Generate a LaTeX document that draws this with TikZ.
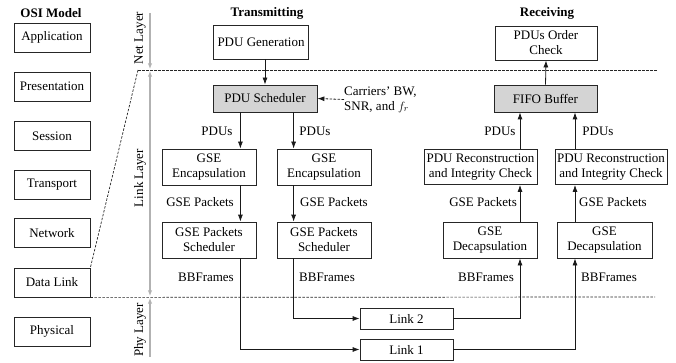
\documentclass[tikz,border=0pt]{standalone}
\usepackage{fontspec}
\setmainfont{Liberation Serif}
\usetikzlibrary{arrows.meta}
\begin{document}
\begin{tikzpicture}[x=1pt,y=-1pt,
  every node/.style={font=\fontsize{13}{15}\selectfont, inner sep=0pt},
  box/.style={draw=black!85, line width=0.8pt, align=center, minimum height=28, fill=white},
  gbox/.style={box, fill=black!17},
  lbl/.style={font=\fontsize{13}{15}\selectfont},
  ttl/.style={font=\fontsize{13}{15}\selectfont\bfseries},
  arr/.style={draw=black!90, line width=0.8pt, -{Latex[length=7pt,width=5pt]}},
  garr/.style={draw=black!30, line width=1.2pt},
  gtip/.style={-{Latex[length=5pt,width=4pt]}},
  dsh/.style={draw=black!85, line width=0.7pt, dash pattern=on 2.5pt off 1.5pt}
]
\useasboundingbox (0,0) rectangle (676,363);

% OSI model
\node[ttl] (osit) at (51,13) {OSI Model};
\node[box, minimum width=76, minimum height=29] (app) at (52,37.5) {Application};
\node[box, minimum width=76, minimum height=29] (pres) at (52,86.5) {Presentation};
\node[box, minimum width=76, minimum height=29] (sess) at (52,136) {Session};
\node[box, minimum width=76, minimum height=29] (trans) at (52,184.5) {Transport};
\node[box, minimum width=76, minimum height=29] (net) at (52,233) {Network};
\node[box, minimum width=76, minimum height=29] (dl) at (52,282.5) {Data Link};
\node[box, minimum width=76, minimum height=29] (phy) at (52,331.5) {Physical};

% layer separators
\coordinate (dtl) at (138,70);
\coordinate (dtr) at (657,70);
\coordinate (dbr) at (655,297);
\draw[dsh] (dtl) -- (dtr);
\draw[dsh] (dtl) -- (dl.north east);
\draw[dsh] (dl.south east) -- (dbr);

% layer axis
\coordinate (g0) at (150,13);
\coordinate (g1) at (150,69.3);
\coordinate (g2) at (150,70.7);
\coordinate (g3) at (150,296.3);
\coordinate (g4) at (150,297.7);
\coordinate (g5) at (150,357);
\draw[garr, -{Latex[length=6pt,width=4.5pt]}] (g0) -- (g1);
\draw[garr, {Latex[length=6pt,width=4.5pt]}-{Latex[length=6pt,width=4.5pt]}] (g2) -- (g3);
\draw[garr, -{Latex[length=6pt,width=4.5pt]}] (g5) -- (g4);
\node[lbl, rotate=90] (netl) at (140,38) {Net Layer};
\node[lbl, rotate=90] (linkl) at (140,178) {Link Layer};
\node[lbl, rotate=90] (phyl) at (140,330) {Phy Layer};

% Transmitting
\node[ttl] (tt) at (267,13) {Transmitting};
\node[box, minimum width=95, minimum height=34] (gen) at (261,42) {PDU Generation};
\node[gbox, minimum width=104, minimum height=27] (sch) at (265,98.5) {PDU Scheduler};
\node[lbl, align=left, anchor=west] (car) at (344,99.5) {Carriers' BW,\\SNR, and $f_r$};
\node[box, minimum width=94, minimum height=36] (encL) at (209,167) {GSE\\Encapsulation};
\node[box, minimum width=94, minimum height=36] (encR) at (324,167) {GSE\\Encapsulation};
\node[box, minimum width=94, minimum height=36] (schL) at (209,240) {GSE Packets\\Scheduler};
\node[box, minimum width=94, minimum height=36] (schR) at (324,240) {GSE Packets\\Scheduler};
\node[box, minimum width=93, minimum height=21] (link2) at (406.5,318.5) {Link 2};
\node[box, minimum width=93, minimum height=21] (link1) at (406.5,349.5) {Link 1};

\draw[arr] (gen.south -| sch.north) -- (sch.north);
\draw[arr, dash pattern=on 2.5pt off 1.5pt] (car.west) -- (sch.east);
\draw[arr] (sch.south -| encL.north east) ++(-16,0) coordinate (pa) -- (pa |- encL.north);
\draw[arr] (sch.south -| encR.north west) ++(17,0) coordinate (pb) -- (pb |- encR.north);
\node[lbl] (pdu1) at (217,131) {PDUs};
\node[lbl] (pdu2) at (315,131) {PDUs};
\draw[arr] (pa |- encL.south) -- (pa |- schL.north);
\draw[arr] (pb |- encR.south) -- (pb |- schR.north);
\node[lbl, anchor=east] (gp1) at (234,202.5) {GSE Packets};
\node[lbl, anchor=west] (gp2) at (300,202.5) {GSE Packets};
\draw[arr] (pa |- schL.south) |- (link1.west);
\draw[arr] (pb |- schR.south) |- (link2.west);
\node[lbl, anchor=east] (bb1) at (234,277.5) {BBFrames};
\node[lbl, anchor=west] (bb2) at (299,277.5) {BBFrames};

% Receiving
\node[ttl] (rt) at (547,13) {Receiving};
\node[box, minimum width=102, minimum height=34] (ord) at (546,43) {PDUs Order\\Check};
\node[gbox, minimum width=103, minimum height=27] (fifo) at (545.5,98.5) {FIFO Buffer};
\node[box, minimum width=113, minimum height=35] (recL) at (480.5,167) {PDU Reconstruction\\and Integrity Check};
\node[box, minimum width=112, minimum height=35] (recR) at (611,167) {PDU Reconstruction\\and Integrity Check};
\node[box, minimum width=94, minimum height=36] (decL) at (490,240) {GSE\\Decapsulation};
\node[box, minimum width=95, minimum height=36] (decR) at (604.5,240) {GSE\\Decapsulation};

\coordinate (ra) at (520,0);
\coordinate (rb) at (575,0);
\draw[arr] (fifo.north) -- (ord.south);
\draw[arr] (ra |- recL.north) -- (ra |- fifo.south);
\draw[arr] (rb |- recR.north) -- (rb |- fifo.south);
\node[lbl] (pdu3) at (500,131) {PDUs};
\node[lbl] (pdu4) at (598,131) {PDUs};
\draw[arr] (ra |- decL.north) -- (ra |- recL.south);
\draw[arr] (rb |- decR.north) -- (rb |- recR.south);
\node[lbl, anchor=east] (gp3) at (517,202.5) {GSE Packets};
\node[lbl, anchor=west] (gp4) at (579,202.5) {GSE Packets};
\draw[arr] (link2.east) -| (ra |- decL.south);
\draw[arr] (link1.east) -| (rb |- decR.south);
\node[lbl, anchor=east] (bb3) at (514,277.5) {BBFrames};
\node[lbl, anchor=west] (bb4) at (581,277.5) {BBFrames};
\end{tikzpicture}
\end{document}
